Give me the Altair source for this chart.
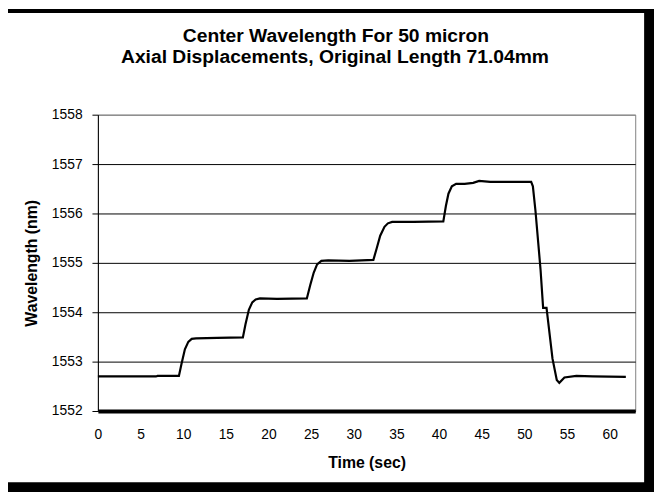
import altair as alt
import pandas as pd

time_sec = [0, 6.8, 7.0, 9.5, 9.8, 10.2, 10.6, 11.0, 11.5, 14, 17.0, 17.3, 17.7, 18.1, 18.5, 19.0, 21,
            24.5, 24.9, 25.3, 25.7, 26.2, 27, 29.5, 32.3, 32.7, 33.1, 33.6, 34.0, 34.5, 37,
            40.5, 40.8, 41.1, 41.5, 42.0, 43.0, 44.0, 44.7, 46, 48, 50.8, 51.0, 51.3, 51.9,
            52.2, 52.6, 53.3, 53.8, 54.1, 54.7, 56.1, 58, 61.9]
wavelength_nm = [1552.70, 1552.70, 1552.71, 1552.71, 1552.95, 1553.25, 1553.40, 1553.46, 1553.47, 1553.48,
                 1553.49, 1553.75, 1554.05, 1554.20, 1554.26, 1554.28, 1554.27,
                 1554.28, 1554.55, 1554.80, 1554.97, 1555.04, 1555.05, 1555.04, 1555.06, 1555.30,
                 1555.55, 1555.73, 1555.80, 1555.83, 1555.83,
                 1555.84, 1556.15, 1556.40, 1556.55, 1556.60, 1556.60, 1556.62, 1556.66, 1556.64,
                 1556.64, 1556.64, 1556.55, 1556.06, 1554.86,
                 1554.09, 1554.09, 1553.06, 1552.63, 1552.57, 1552.68, 1552.71, 1552.70, 1552.69]
x_ticks = [0, 5, 10, 15, 20, 25, 30, 35, 40, 45, 50, 55, 60]
y_ticks = [1552, 1553, 1554, 1555, 1556, 1557, 1558]
title_lines = ["Center Wavelength For 50 micron",
               "Axial Displacements, Original Length 71.04mm"]

df = pd.DataFrame({"t": time_sec, "w": wavelength_nm})
one = pd.DataFrame({"k": [0]})

line = alt.Chart(df).mark_line(color="black", strokeWidth=2.2).encode(
    x=alt.X("t:Q", scale=alt.Scale(domain=[0, 63], nice=False),
            axis=alt.Axis(values=x_ticks, title="Time (sec)", grid=False, tickSize=0,
                          domainWidth=4, domainColor="black", labelPadding=17,
                          titlePadding=13, labelFlush=False)),
    y=alt.Y("w:Q", scale=alt.Scale(domain=[1552, 1558], nice=False, zero=False),
            axis=alt.Axis(values=y_ticks, title="Wavelength (nm)", grid=True,
                          gridColor=alt.condition("datum.value == 1558", alt.value("#808080"), alt.value("black")),
                          tickSize=6, tickColor="black", domainColor="black",
                          labelPadding=10, titlePadding=12, format="d")),
)

title1 = alt.Chart(one).mark_text(fontSize=19.5, fontWeight="bold", color="black",
                                  align="center", baseline="middle").encode(
    x=alt.value(241), y=alt.value(-80), text=alt.value(title_lines[0]))
title2 = alt.Chart(one).mark_text(fontSize=19.5, fontWeight="bold", color="black",
                                  align="center", baseline="middle").encode(
    x=alt.value(240), y=alt.value(-58), text=alt.value(title_lines[1]))

frame_right = alt.Chart(one).mark_rule(color="black", strokeWidth=10).encode(
    x=alt.value(558), y=alt.value(-105), y2=alt.value(373))
frame_bottom = alt.Chart(one).mark_rule(color="black", strokeWidth=10).encode(
    y=alt.value(377), x=alt.value(-91), x2=alt.value(563))
frame_top = alt.Chart(one).mark_rule(color="black", strokeWidth=4).encode(
    y=alt.value(-105), x=alt.value(-91), x2=alt.value(563))

chart = alt.layer(line, title1, title2, frame_right, frame_bottom, frame_top).properties(
    width=544, height=300,
    autosize=alt.AutoSizeParams(type="none"),
    padding={"left": 91, "top": 105, "right": 19, "bottom": 81},
).configure(font="Liberation Sans").configure_view(
    stroke="#808080", strokeWidth=1
).configure_axis(
    labelFontSize=14, labelColor="black", titleFontSize=16, titleFontWeight="bold",
    titleColor="black", labelFont="Liberation Sans", titleFont="Liberation Sans"
)

chart.save("out.html", embed_options={"renderer": "svg", "actions": False})
